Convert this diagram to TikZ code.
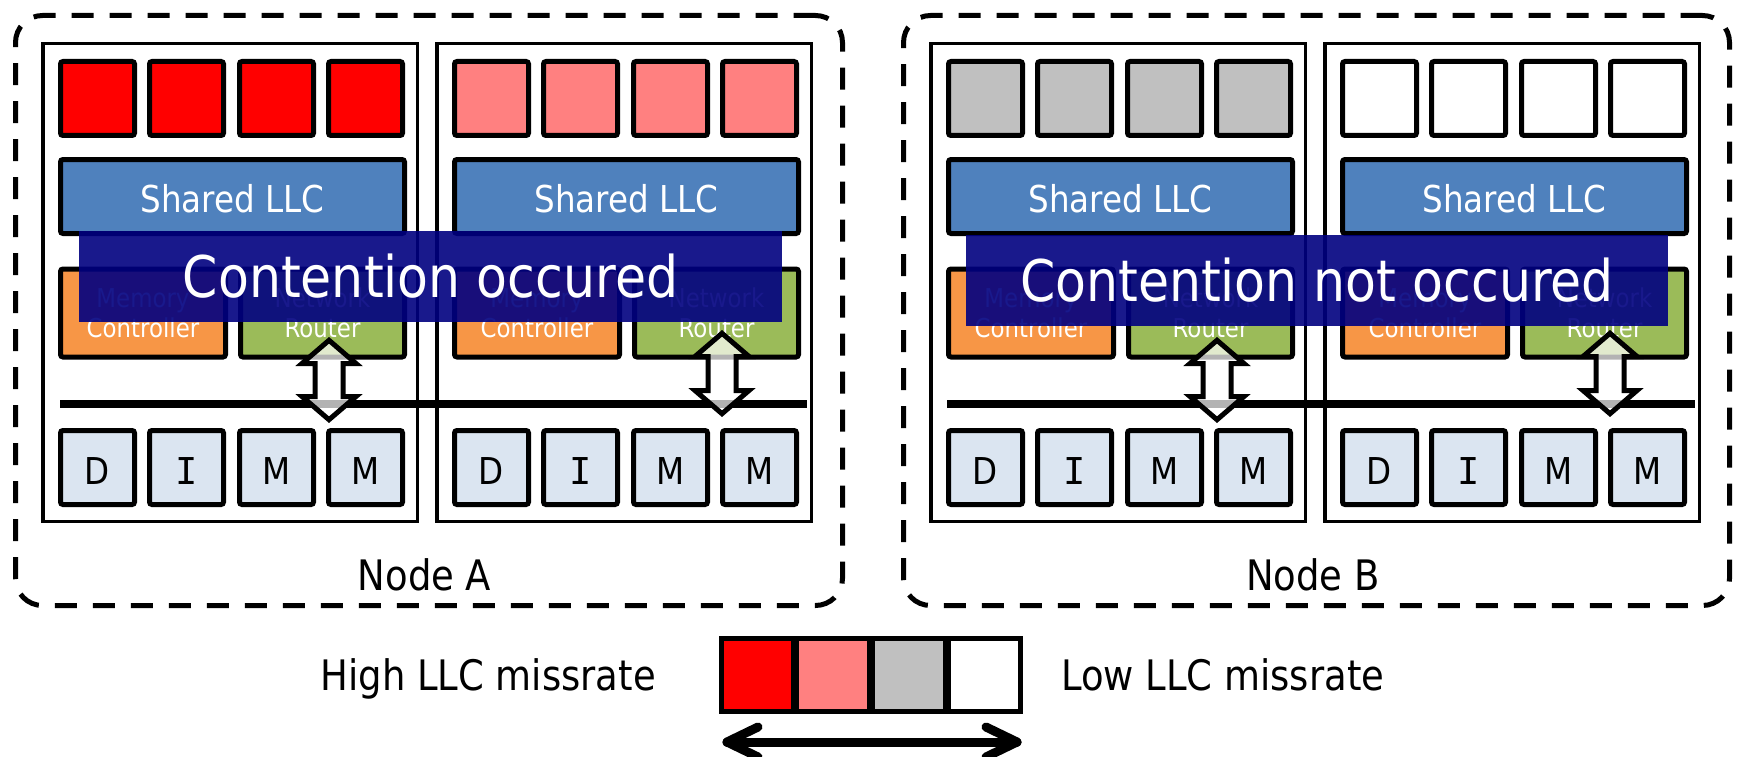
\documentclass[tikz,border=0pt]{standalone}
\usepackage{fontspec}
\setmainfont{DejaVu Sans}[FakeStretch=0.88]
\newfontfamily\barI{DejaVu Sans Mono}
\usetikzlibrary{arrows.meta}

\definecolor{coreRed}{HTML}{FF0000}
\definecolor{corePink}{HTML}{FF8080}
\definecolor{coreGray}{HTML}{C0C0C0}
\definecolor{llcBlue}{HTML}{4F81BD}
\definecolor{mcOrange}{HTML}{F79646}
\definecolor{rtGreen}{HTML}{9BBB59}
\definecolor{dimmBlue}{HTML}{DBE5F1}
\definecolor{bannerNavy}{HTML}{000080}

\newcommand\pxfont[2]{\fontsize{#1}{#2}\selectfont}

% one socket: four cores, shared LLC, memory controller, router and DIMMs
\newcommand\chipunit[3]{%
  \node[chipframe, minimum width=374.5pt, minimum height=477.5pt] (#1) at ({#2+189},282.5) {};
  \foreach \k/\off in {1/56.5,2/145.5,3/235.5,4/324.5}
    \node[core, fill=#3] (#1-core\k) at ({#2+\off},98.5) {};
  \node[llc] (#1-llc) at ({#2+191.5},196.5) {Shared LLC};
  \node[memctl] (#1-mc) at ({#2+102},313) {Memory\\Controller};
  \node[router] (#1-rt) at ({#2+281.5},313) {Network\\Router};
  \foreach \k/\off/\lab in {1/56.5/D,2/145.5/{\barI I},3/235.5/M,4/324.5/M}
    \node[dimm] (#1-dimm\k) at ({#2+\off},467.5) {\lab};
}

% hollow double-headed block arrow between router and memory bus
\newcommand\linkarrow[4]{%
  \coordinate (#1-top) at (#2,{#3+3.3});
  \coordinate (#1-bot) at (#2,{#4-3.3});
  \draw[linkarrow] (#1-top) -- ++(27,23.2) -- ++(-13,0) -- ({#2+14},{#4-26.5})
    -- ++(13,0) -- (#1-bot) -- ++(-27,-23.2) -- ++(13,0) -- ({#2-14},{#3+26.5})
    -- ++(-13,0) -- cycle;
}

\begin{document}
\begin{tikzpicture}[x=1pt,y=-1pt,
  nodeframe/.style={draw, line width=5pt, dash pattern=on 22pt off 16pt,
    rounded corners=27pt, inner sep=0pt},
  chipframe/.style={draw, line width=3.5pt, inner sep=0pt},
  unitbox/.style={draw, line width=5pt, rounded corners=2.5pt, inner sep=0pt, text=white},
  core/.style={unitbox, minimum width=74pt, minimum height=74pt},
  llc/.style={unitbox, fill=llcBlue, minimum width=344pt, minimum height=74pt,
    font=\pxfont{37}{44}, text height=31pt, text depth=0pt},
  memctl/.style={unitbox, fill=mcOrange, minimum width=165pt, minimum height=88pt,
    font=\pxfont{26}{30}, align=center},
  router/.style={unitbox, fill=rtGreen, minimum width=164pt, minimum height=88pt,
    font=\pxfont{26}{30}, align=center},
  dimm/.style={unitbox, fill=dimmBlue, text=black, minimum width=74pt,
    minimum height=74pt, font=\pxfont{37}{44}, text height=33pt, text depth=0pt},
  bus/.style={line width=8pt},
  linkarrow/.style={draw, line width=5pt, fill=white, fill opacity=0.7, line join=miter},
  banner/.style={fill=bannerNavy, fill opacity=0.9, text opacity=1, text=white,
    inner sep=0pt, minimum height=91pt, font=\pxfont{57.4}{60}},
  caption/.style={font=\pxfont{42}{48}, anchor=base, inner sep=0pt},
  legcell/.style={draw, line width=4pt, inner sep=0pt, minimum width=72pt, minimum height=74pt},
  legarrow/.style={line width=9pt, line cap=round, line join=round}
]
\useasboundingbox (0,0) rectangle (1737,757);

% machine outlines
\node[nodeframe, minimum width=827pt, minimum height=590pt] (nodeA) at (429,310.5) {};
\node[nodeframe, minimum width=826pt, minimum height=590pt] (nodeB) at (1316.5,310.5) {};

% sockets
\chipunit{A1}{41}{coreRed}
\chipunit{A2}{435}{corePink}
\chipunit{B1}{929}{coreGray}
\chipunit{B2}{1323}{white}

% memory buses
\coordinate (busA-w) at (60,404);
\coordinate (busA-e) at (807,404);
\coordinate (busB-w) at (947,404);
\coordinate (busB-e) at (1695,404);
\draw[bus] (busA-w) -- (busA-e);
\draw[bus] (busB-w) -- (busB-e);

% router <-> bus traffic
\linkarrow{arA1}{329}{337}{423}
\linkarrow{arA2}{722}{330}{417}
\linkarrow{arB1}{1217}{337}{423}
\linkarrow{arB2}{1610}{330}{417}

% contention banners
\node[banner, minimum width=703pt] (ovA) at (430.5,276.5) {Contention occured};
\node[banner, minimum width=702pt] (ovB) at (1317,280.5) {Contention not occured};

% machine labels
\node[caption] (capA) at (424.5,590) {Node A};
\node[caption] (capB) at (1313,590) {Node B};

% legend
\node[caption, anchor=base east] (hi) at (656,690) {High LLC missrate};
\node[caption, anchor=base west] (lo) at (1061,690) {Low LLC missrate};
\node[legcell, fill=coreRed] (lg1) at (757,675) {};
\node[legcell, fill=corePink] (lg2) at (833,675) {};
\node[legcell, fill=coreGray] (lg3) at (909,675) {};
\node[legcell, fill=white] (lg4) at (985,675) {};
\node[draw, line width=5pt, inner sep=0pt, minimum width=299pt, minimum height=73pt] (legframe) at (871,675) {};
\coordinate (legL) at (727,742);
\coordinate (legR) at (1017,742);
\draw[legarrow] (legL) -- (legR);
\draw[legarrow] ([shift={(31,-15)}]legL) -- (legL) -- ([shift={(31,15)}]legL);
\draw[legarrow] ([shift={(-31,-15)}]legR) -- (legR) -- ([shift={(-31,15)}]legR);
\end{tikzpicture}
\end{document}
